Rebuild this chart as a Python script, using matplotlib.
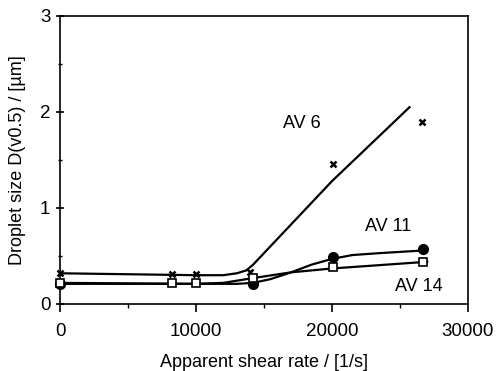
import matplotlib
matplotlib.use("Agg")
import matplotlib.pyplot as plt
from matplotlib.ticker import MultipleLocator

plt.rcParams['font.family'] = ['Liberation Sans', 'DejaVu Sans']

# Measured points
av6_x = [0, 8200, 10000, 14000, 20100, 26600]
av6_y = [0.32, 0.31, 0.31, 0.33, 1.46, 1.90]
av11_x = [0, 14200, 20100, 26700]
av11_y = [0.21, 0.21, 0.49, 0.57]
av14_x = [0, 8200, 10000, 14200, 20100, 26700]
av14_y = [0.22, 0.22, 0.22, 0.27, 0.39, 0.44]

# Fitted curves
av6_fit_x = [0, 5000, 10000, 12000, 13000, 13700, 14200, 16000, 20000, 25700]
av6_fit_y = [0.32, 0.31, 0.30, 0.30, 0.32, 0.35, 0.41, 0.68, 1.28, 2.05]
av11_fit_x = [0, 10000, 13000, 14200, 15500, 17000, 18500, 20000, 21500, 23500, 27000]
av11_fit_y = [0.21, 0.21, 0.21, 0.22, 0.26, 0.33, 0.41, 0.47, 0.51, 0.53, 0.56]
av14_fit_x = [0, 10000, 12000, 14200, 17000, 20000, 24000, 27000]
av14_fit_y = [0.22, 0.21, 0.22, 0.27, 0.33, 0.37, 0.41, 0.44]

labels = ["AV 6", "AV 11", "AV 14"]
label_x = [17800, 24100, 26400]
label_y = [1.88, 0.81, 0.18]

fig = plt.figure(figsize=(4.97, 3.71), dpi=100)
ax = fig.add_axes([60/497, 1-304/371, 408/497, 288/371])

lw = 1.6
ax.plot(av6_fit_x, av6_fit_y, color='black', lw=lw)
ax.plot(av11_fit_x, av11_fit_y, color='black', lw=lw)
ax.plot(av14_fit_x, av14_fit_y, color='black', lw=lw)

ax.plot(av6_x, av6_y, 'x', color='black', ms=5, mew=1.8, clip_on=False, zorder=5)
ax.plot(av11_x, av11_y, 'o', color='black', ms=7, clip_on=False, zorder=5)
ax.plot(av14_x, av14_y, 's', color='black', mfc='white', ms=6, mew=1.2, clip_on=False, zorder=6)

for t, x, y in zip(labels, label_x, label_y):
    ax.text(x, y, t, fontsize=13, ha='center', va='center')

ax.set_xlim(0, 30000)
ax.set_ylim(0, 3)
ax.xaxis.set_major_locator(MultipleLocator(10000))
ax.xaxis.set_minor_locator(MultipleLocator(5000))
ax.yaxis.set_major_locator(MultipleLocator(1))
ax.yaxis.set_minor_locator(MultipleLocator(0.5))
ax.tick_params(axis='x', which='major', direction='out', length=6, width=1.2, labelsize=13.5, pad=8)
ax.tick_params(axis='x', which='minor', direction='out', length=3, width=1.0)
ax.tick_params(axis='y', which='major', direction='inout', length=6, width=1.2, labelsize=13.5, pad=4)
ax.tick_params(axis='y', which='minor', direction='inout', length=3, width=1.0)
for s in ax.spines.values():
    s.set_linewidth(1.2)

ax.set_xlabel("Apparent shear rate / [1/s]", fontsize=13, labelpad=10)
ax.set_ylabel("Droplet size D(v0.5) / [\u00b5m]", fontsize=13, labelpad=10)

fig.savefig("out.png", dpi=100)
